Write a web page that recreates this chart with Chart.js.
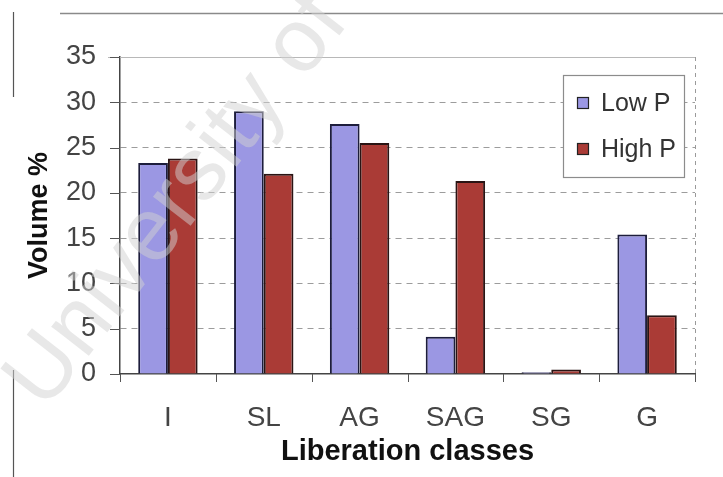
<!DOCTYPE html>
<html>
<head>
<meta charset="utf-8">
<script src="https://cdn.jsdelivr.net/npm/chart.js@4.4.1/dist/chart.umd.min.js"></script>
<style>
  html, body { margin: 0; padding: 0; background: #ffffff; }
  #wrap { width: 723px; height: 477px; position: relative; }
</style>
</head>
<body>
<div id="wrap"><canvas id="c" width="723" height="477"></canvas></div>
<script>
// ---- data ----
const categories = ["I", "SL", "AG", "SAG", "SG", "G"];
const lowP  = [23.3, 29.0, 27.6, 4.1, 0.2, 15.4];
const highP = [23.8, 22.1, 25.5, 21.3, 0.5, 6.5];
const seriesNames = ["Low P", "High P"];
const yTicks = [0, 5, 10, 15, 20, 25, 30, 35];
const xTitle = "Liberation classes";
const yTitle = "Volume %";
const watermark = "University of";

const FONT = "'Liberation Sans', Arial, sans-serif";

const decor = {
  id: 'decor',
  beforeDatasetsDraw(chart) {
    const ctx = chart.ctx, a = chart.chartArea;
    ctx.save();
    ctx.strokeStyle = '#b8b8b8'; ctx.lineWidth = 1.2;
    ctx.beginPath(); ctx.moveTo(a.left - 12, a.top + 0.5); ctx.lineTo(a.right, a.top + 0.5); ctx.stroke();
    ctx.strokeStyle = '#9a9a9a'; ctx.lineWidth = 1; ctx.setLineDash([4, 4]);
    ctx.beginPath(); ctx.moveTo(a.right + 0.5, a.top); ctx.lineTo(a.right + 0.5, a.bottom); ctx.stroke();
    ctx.restore();
  },
  afterDraw(chart) {
    const ctx = chart.ctx, a = chart.chartArea;
    const ys = chart.scales.y, xs = chart.scales.x;
    ctx.save();
    // outer scan frame fragments
    ctx.strokeStyle = '#8a8a8a'; ctx.lineWidth = 1.5;
    ctx.beginPath(); ctx.moveTo(60, 13.5); ctx.lineTo(723, 13.5); ctx.stroke();
    ctx.strokeStyle = '#555'; ctx.lineWidth = 1.2;
    ctx.beginPath(); ctx.moveTo(13.5, 12); ctx.lineTo(13.5, 97); ctx.stroke();
    ctx.beginPath(); ctx.moveTo(13.5, 370); ctx.lineTo(13.5, 477); ctx.stroke();
    // y tick marks
    ctx.strokeStyle = '#555'; ctx.lineWidth = 1;
    yTicks.forEach(v => {
      const y = Math.round(ys.getPixelForValue(v)) + 0.5;
      ctx.beginPath(); ctx.moveTo(a.left - 10, y); ctx.lineTo(a.left, y); ctx.stroke();
    });
    // x tick marks between categories
    const n = categories.length;
    for (let i = 0; i <= n; i++) {
      let x;
      if (i === 0) x = a.left; else if (i === n) x = a.right;
      else x = (xs.getPixelForValue(i - 1) + xs.getPixelForValue(i)) / 2;
      x = Math.round(x) + 0.5;
      ctx.beginPath(); ctx.moveTo(x, a.bottom); ctx.lineTo(x, a.bottom + 8); ctx.stroke();
    }
    // legend
    const bx = 563, by = 75, bw = 121, bh = 102;
    ctx.fillStyle = '#ffffff'; ctx.fillRect(bx, by, bw, bh);
    ctx.strokeStyle = '#8c8c8c'; ctx.lineWidth = 1.2;
    ctx.strokeRect(bx + 0.5, by + 0.5, bw, bh);
    const rows = [103, 149];
    chart.data.datasets.forEach((ds, i) => {
      const cy = rows[i];
      ctx.fillStyle = ds.backgroundColor;
      ctx.fillRect(577, cy - 6, 12, 12);
      ctx.strokeStyle = '#222'; ctx.lineWidth = 1.2;
      ctx.strokeRect(577.5, cy - 5.5, 11, 11);
      ctx.fillStyle = '#333'; ctx.font = '25px ' + FONT;
      ctx.textBaseline = 'middle'; ctx.textAlign = 'left';
      ctx.fillText(ds.label, 601, cy + 1);
    });
    // watermark
    ctx.translate(45, 412);
    ctx.rotate(-52 * Math.PI / 180);
    ctx.font = '90px ' + FONT;
    ctx.fillStyle = 'rgba(210,210,210,0.5)';
    ctx.textBaseline = 'alphabetic'; ctx.textAlign = 'left';
    ctx.fillText(watermark, 0, 0);
    ctx.restore();
  }
};

new Chart(document.getElementById('c'), {
  type: 'bar',
  data: {
    labels: categories,
    datasets: [
      { label: seriesNames[0], data: lowP, backgroundColor: '#9b97e3', borderColor: '#1d1d3c', borderWidth: 2,
        categoryPercentage: 0.62, barPercentage: 1.0 },
      { label: seriesNames[1], data: highP, backgroundColor: '#aa3b36', borderColor: '#2a1414', borderWidth: 2,
        categoryPercentage: 0.62, barPercentage: 1.0 }
    ]
  },
  options: {
    responsive: false,
    animation: false,
    devicePixelRatio: 1,
    layout: { padding: { left: 0, right: 28, top: 57, bottom: 0 } },
    plugins: { legend: { display: false }, tooltip: { enabled: false } },
    scales: {
      x: {
        grid: { display: false, drawTicks: false },
        border: { display: true, color: '#444', width: 1.5 },
        ticks: { font: { family: FONT, size: 28 }, color: '#444', padding: 27, maxRotation: 0 },
        title: { display: true, text: xTitle, font: { family: FONT, size: 29, weight: 'bold' }, color: '#111',
                 padding: { top: 0, bottom: 8 } },
        afterFit: s => { s.height = 477 - 374; }
      },
      y: {
        min: 0, max: 35,
        afterBuildTicks: s => { s.ticks = yTicks.map(v => ({ value: v })); },
        grid: {
          drawTicks: false,
          color: c => (c.tick && (c.tick.value === 0 || c.tick.value === 35)) ? 'rgba(0,0,0,0)' : '#9c9c9c',
          lineWidth: 1
        },
        border: { display: true, color: '#444', width: 1.5, dash: [6, 5] },
        ticks: { font: { family: FONT, size: 27 }, color: '#444', padding: 24 },
        title: { display: true, text: yTitle, font: { family: FONT, size: 27, weight: 'bold' }, color: '#111',
                 padding: { top: 23, bottom: 0 } },
        afterFit: s => { s.width = 120; }
      }
    }
  },
  plugins: [decor]
});
</script>
</body>
</html>
